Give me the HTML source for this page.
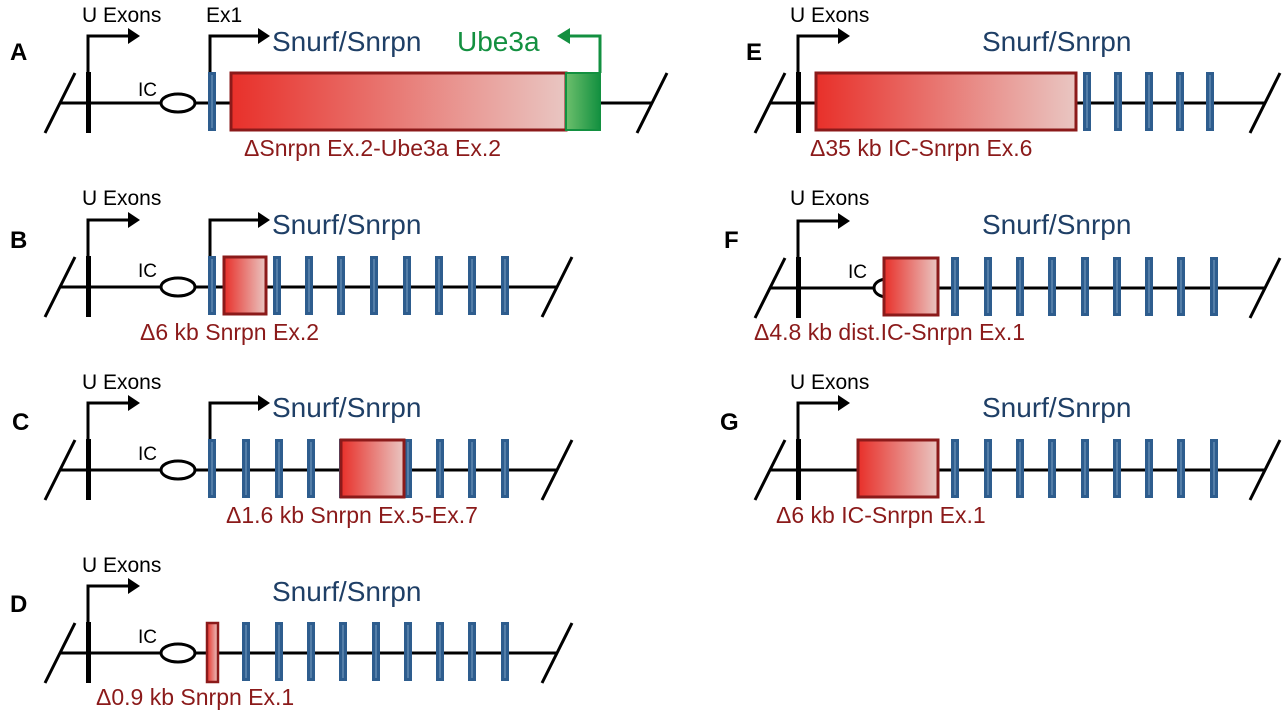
<!DOCTYPE html>
<html><head><meta charset="utf-8"><style>
html,body{margin:0;padding:0;background:#fff}
svg{display:block}
text{font-family:"Liberation Sans",sans-serif}
.l{font-weight:bold;font-size:24px;fill:#000}
.u{font-size:21px;fill:#000}
.s{font-size:28px;fill:#1f3f66}
.d{font-size:23px;fill:#8b1a1a}
.ic{font-size:19px;fill:#000}
</style></head><body>
<svg id="sv" width="1283" height="720" viewBox="0 0 1283 720" xmlns="http://www.w3.org/2000/svg">
<defs>
<linearGradient id="rg" x1="0" x2="1" y1="0" y2="0"><stop offset="0" stop-color="#e8302a"/><stop offset="1" stop-color="#e9c6c2"/></linearGradient>
<linearGradient id="gg" x1="0" x2="1"><stop offset="0" stop-color="#6cbf6c"/><stop offset="1" stop-color="#139040"/></linearGradient>
</defs>
<g id="g"></g>
<text class="l" x="10" y="60">A</text>
<text class="l" x="10" y="248">B</text>
<text class="l" x="12" y="430">C</text>
<text class="l" x="10" y="612">D</text>
<text class="l" x="746" y="60">E</text>
<text class="l" x="724" y="248">F</text>
<text class="l" x="720" y="430">G</text>

<text class="u" x="82" y="22">U Exons</text>
<text class="u" x="206" y="22">Ex1</text>
<text class="u" x="82" y="205">U Exons</text>
<text class="u" x="82" y="389">U Exons</text>
<text class="u" x="82" y="572">U Exons</text>
<text class="u" x="790" y="22">U Exons</text>
<text class="u" x="790" y="205">U Exons</text>
<text class="u" x="790" y="389">U Exons</text>

<text class="s" x="272" y="51">Snurf/Snrpn</text>
<text x="457" y="51" style="font-size:28px;fill:#139040">Ube3a</text>
<text class="s" x="272" y="234">Snurf/Snrpn</text>
<text class="s" x="272" y="417">Snurf/Snrpn</text>
<text class="s" x="272" y="601">Snurf/Snrpn</text>
<text class="s" x="982" y="51">Snurf/Snrpn</text>
<text class="s" x="982" y="234">Snurf/Snrpn</text>
<text class="s" x="982" y="417">Snurf/Snrpn</text>

<text class="ic" x="138" y="96">IC</text>
<text class="ic" x="138" y="277">IC</text>
<text class="ic" x="138" y="460">IC</text>
<text class="ic" x="138" y="643">IC</text>
<text class="ic" x="848" y="278">IC</text>

<text class="d" x="244" y="156">ΔSnrpn Ex.2-Ube3a Ex.2</text>
<text class="d" x="140" y="340">Δ6 kb Snrpn Ex.2</text>
<text class="d" x="226" y="523">Δ1.6 kb Snrpn Ex.5-Ex.7</text>
<text class="d" x="96" y="705">Δ0.9 kb Snrpn Ex.1</text>
<text class="d" x="810" y="156">Δ35 kb IC-Snrpn Ex.6</text>
<text class="d" x="754" y="340">Δ4.8 kb dist.IC-Snrpn Ex.1</text>
<text class="d" x="776" y="523">Δ6 kb IC-Snrpn Ex.1</text>
</svg>
<script>
var g=document.getElementById('g'),h='';
function ln(x1,y1,x2,y2,w,c){h+='<line x1="'+x1+'" y1="'+y1+'" x2="'+x2+'" y2="'+y2+'" stroke="'+(c||'#000')+'" stroke-width="'+w+'"/>';}
function exon(x,y){h+='<rect x="'+(x-4)+'" y="'+(y-31)+'" width="8" height="59" fill="#2e5d8e"/><line x1="'+x+'" y1="'+(y-28)+'" x2="'+x+'" y2="'+(y+25)+'" stroke="#8fb0d0" stroke-width="0.8"/>';}
function box(x1,x2,y){h+='<rect x="'+x1+'" y="'+(y-30)+'" width="'+(x2-x1)+'" height="57" fill="url(#rg)" stroke="#8b1a1a" stroke-width="3"/>';}
function arrow(x,y,len){var ay=y-67;h+='<polyline points="'+x+','+(y-31)+' '+x+','+ay+' '+(x+len)+','+ay+'" fill="none" stroke="#000" stroke-width="3"/><path d="M'+(x+len)+','+(ay-8)+' L'+(x+len+12)+','+ay+' L'+(x+len)+','+(ay+8)+' z" fill="#000"/>';}
function base(ox,y,rx,ic){
  ln(ox+60,y,rx,y,3);
  ln(ox+45,y+30,ox+75,y-30,3);
  ln(rx-15,y+30,rx+15,y-30,3);
  h+='<rect x="'+(ox+86)+'" y="'+(y-31)+'" width="5" height="61" fill="#000"/>';
  arrow(ox+88,y,40);
  if(ic) h+='<ellipse cx="'+(ox+178)+'" cy="'+(y)+'" rx="17" ry="9" fill="#fff" stroke="#000" stroke-width="3"/>';
}
var E9=[246,279,311,343,376,408,440,472,505];
// A
base(0,103,652,true);
exon(212,103);arrow(210,103,48);
box(231,566,103);
h+='<rect x="566" y="73" width="34" height="57" fill="url(#gg)" stroke="#139040" stroke-width="2"/>';
h+='<polyline points="600,73 600,36 570,36" fill="none" stroke="#139040" stroke-width="3"/><path d="M570,28 L557,36 L570,44 z" fill="#139040"/>';
// B
base(0,287,557,true);
exon(212,287);arrow(210,287,48);
[277,309,341,374,407,439,472,505].forEach(function(x){exon(x,287)});
box(224,266,287);
// C
base(0,470,557,true);
exon(212,470);arrow(210,470,48);
E9.forEach(function(x){exon(x,470)});
box(341,404,470);
// D
base(0,653,557,true);
E9.forEach(function(x){exon(x,653)});
h+='<rect x="207" y="623" width="11" height="59" fill="url(#rg)" stroke="#8b1a1a" stroke-width="2.5"/>';
// E
base(710,103,1265,false);
[1087,1118,1149,1180,1210].forEach(function(x){exon(x,103)});
box(816,1076,103);
// F
base(710,288,1265,false);
h+='<ellipse cx="887" cy="288" rx="13" ry="9" fill="#fff" stroke="#000" stroke-width="3"/>';
[955,988,1020,1052,1085,1117,1149,1181,1214].forEach(function(x){exon(x,288)});
box(884,938,288);
// G
base(710,470,1265,false);
[955,988,1020,1052,1085,1117,1149,1181,1214].forEach(function(x){exon(x,470)});
box(858,938,470);
g.innerHTML=h;
</script>
</body></html>
